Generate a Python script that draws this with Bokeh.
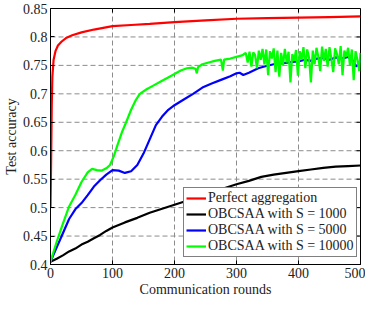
from bokeh.plotting import figure
from bokeh.models import FixedTicker, Legend, LegendItem, Range1d, Span
from bokeh.embed import file_html
from bokeh.resources import INLINE

# ---------------- data ----------------
red_x = [0, 1, 2, 3, 5, 8, 12, 18, 25, 35, 50, 70, 100, 130, 160, 200, 250, 300, 350, 400, 450, 500]
red_y = [0.50, 0.58, 0.68, 0.73, 0.76, 0.775, 0.785, 0.792, 0.798, 0.803, 0.808, 0.813, 0.819,
         0.821, 0.823, 0.826, 0.829, 0.832, 0.833, 0.834, 0.835, 0.836]

black_x = [0, 10, 20, 30, 40, 50, 60, 70, 80, 90, 100, 120, 140, 160, 180, 200, 220, 240, 260,
           280, 300, 320, 340, 360, 380, 400, 420, 440, 460, 480, 500]
black_y = [0.405, 0.410, 0.416, 0.423, 0.428, 0.435, 0.440, 0.446, 0.452, 0.459, 0.465, 0.474,
           0.482, 0.491, 0.498, 0.505, 0.512, 0.520, 0.527, 0.534, 0.541, 0.547, 0.554, 0.558,
           0.561, 0.564, 0.567, 0.570, 0.572, 0.573, 0.574]

blue_x = [0, 10, 20, 30, 40, 50, 60, 70, 80, 90, 100, 110, 120, 130, 140, 150, 160, 170, 180,
          190, 200, 215, 230, 245, 260, 276, 290, 300, 305, 311, 320, 335, 345, 360, 375, 390,
          400, 410, 420, 430, 440, 450, 460, 470, 480, 488, 493, 497, 500]
blue_y = [0.405, 0.430, 0.455, 0.480, 0.497, 0.508, 0.522, 0.537, 0.548, 0.558, 0.566, 0.565,
          0.561, 0.564, 0.575, 0.595, 0.620, 0.645, 0.660, 0.672, 0.680, 0.690, 0.700, 0.711,
          0.718, 0.725, 0.731, 0.736, 0.737, 0.733, 0.737, 0.745, 0.748, 0.752, 0.754, 0.756,
          0.757, 0.760, 0.758, 0.762, 0.763, 0.760, 0.764, 0.762, 0.765, 0.758, 0.748, 0.752, 0.760]

green_x = [0, 10, 20, 30, 40, 50, 60, 67, 75, 82, 90, 96, 102, 108, 115, 122, 130, 137, 144, 155,
           165, 180, 192, 200, 210, 220, 228, 234, 236, 238, 245, 255, 265, 275, 278, 280, 290,
           300, 310,
           312, 315, 318, 321, 324, 327, 330, 333, 336, 339, 342, 345, 348, 351, 354, 357, 360,
           363, 366, 369, 372, 375, 378, 381, 384, 387, 390, 393, 396, 399, 402, 405, 408, 411,
           414, 417, 420, 423, 426, 429, 432, 435, 438, 441, 444, 447, 450, 453, 456, 459, 462,
           465, 468, 471, 474, 477, 480, 483, 486, 489, 492, 495, 498, 500]
green_y = [0.405, 0.440, 0.472, 0.502, 0.522, 0.545, 0.562, 0.568, 0.566, 0.565, 0.569, 0.575,
           0.590, 0.610, 0.632, 0.650, 0.672, 0.688, 0.700, 0.708, 0.714, 0.723, 0.730, 0.735,
           0.741, 0.745, 0.746, 0.744, 0.736, 0.747, 0.752, 0.755, 0.758, 0.760, 0.741, 0.760,
           0.762, 0.765, 0.768,
           0.770, 0.772, 0.755, 0.774, 0.748, 0.773, 0.768, 0.745, 0.776, 0.760, 0.779, 0.752,
           0.778, 0.733, 0.775, 0.762, 0.780, 0.738, 0.776, 0.730, 0.772, 0.750, 0.779, 0.755,
           0.774, 0.720, 0.770, 0.758, 0.777, 0.732, 0.775, 0.760, 0.782, 0.745, 0.778, 0.764,
           0.720, 0.776, 0.752, 0.781, 0.765, 0.740, 0.783, 0.758, 0.779, 0.748, 0.782, 0.762,
           0.738, 0.780, 0.770, 0.752, 0.784, 0.733, 0.776, 0.765, 0.781, 0.750, 0.778, 0.724,
           0.775, 0.760, 0.740, 0.772]

x_ticks = [0, 100, 200, 300, 400, 500]
x_tick_labels = ["0", "100", "200", "300", "400", "500"]
y_ticks = [0.4, 0.45, 0.5, 0.55, 0.6, 0.65, 0.7, 0.75, 0.8, 0.85]
y_tick_labels = ["0.4", "0.45", "0.5", "0.55", "0.6", "0.65", "0.7", "0.75", "0.8", "0.85"]

series_labels = ["Perfect aggregation", "OBCSAA with S = 1000",
                 "OBCSAA with S = 5000", "OBCSAA with S = 10000"]
series_colors = ["#ff0000", "#000000", "#0000ff", "#00ff00"]

FONT = "Liberation Serif"
X0, X1 = 0, 500
Y0, Y1 = 0.4, 0.85
FW, FH = 310, 256

p = figure(frame_width=FW, frame_height=FH, output_backend="svg", toolbar_location=None,
           x_range=Range1d(X0, X1), y_range=Range1d(Y0, Y1),
           min_border_left=42, min_border_right=5, min_border_top=8, min_border_bottom=32)
p.background_fill_color = "white"
p.border_fill_color = "white"
p.outline_line_color = "black"
p.outline_line_width = 1
p.grid.visible = False

# axes
p.xaxis.ticker = FixedTicker(ticks=x_ticks)
p.yaxis.ticker = FixedTicker(ticks=y_ticks)
p.xaxis.major_label_overrides = {t: s for t, s in zip(x_ticks, x_tick_labels)}
p.yaxis.major_label_overrides = {t: s for t, s in zip(y_ticks, y_tick_labels)}
p.xaxis.axis_label = "Communication rounds"
p.yaxis.axis_label = "Test accuracy"
for ax in (p.xaxis[0], p.yaxis[0]):
    ax.axis_label_text_font = FONT
    ax.axis_label_text_font_style = "normal"
    ax.axis_label_text_font_size = "14px"
    ax.axis_label_text_color = "#222222"
    ax.major_label_text_font = FONT
    ax.major_label_text_font_size = "14px"
    ax.major_label_text_color = "#222222"
    ax.major_tick_in = 4
    ax.major_tick_out = 0
    ax.minor_tick_in = 0
    ax.minor_tick_out = 0
    ax.axis_line_color = "black"
    ax.major_tick_line_color = "black"
    ax.major_label_standoff = 3
    ax.axis_label_standoff = 1

# dashed grid
for t in x_ticks[1:-1]:
    p.add_layout(Span(location=t, dimension="height", line_color="#8c8c8c",
                      line_dash="5 3", line_width=1, level="underlay"))
for t in y_ticks[1:-1]:
    p.add_layout(Span(location=t, dimension="width", line_color="#8c8c8c",
                      line_dash="5 3", line_width=1, level="underlay"))

# mirrored inward tick marks on the top and right edges
tlx = (X1 - X0) * 4.0 / FW
tly = (Y1 - Y0) * 4.0 / FH
p.segment(x0=x_ticks, y0=[Y1] * len(x_ticks), x1=x_ticks, y1=[Y1 - tly] * len(x_ticks),
          line_color="black", line_width=1)
p.segment(x0=[X1] * len(y_ticks), y0=y_ticks, x1=[X1 - tlx] * len(y_ticks), y1=y_ticks,
          line_color="black", line_width=1)

xs = [red_x, black_x, blue_x, green_x]
ys = [red_y, black_y, blue_y, green_y]
items = []
for x, y, c, lab in zip(xs, ys, series_colors, series_labels):
    r = p.line(x, y, line_color=c, line_width=2.2)
    items.append(LegendItem(label=lab, renderers=[r]))

legend = Legend(items=items, location=(FW - 177, 7))
legend.label_text_font = FONT
legend.label_text_font_size = "14px"
legend.label_text_color = "#222222"
legend.label_height = 12
legend.glyph_height = 12
legend.glyph_width = 20
legend.label_standoff = 2
legend.spacing = 0
legend.padding = 2
legend.margin = 0
legend.border_line_color = "black"
legend.border_line_width = 1
legend.background_fill_color = "white"
legend.background_fill_alpha = 1
p.add_layout(legend, "center")

open("out.html", "w").write(file_html(p, INLINE))
